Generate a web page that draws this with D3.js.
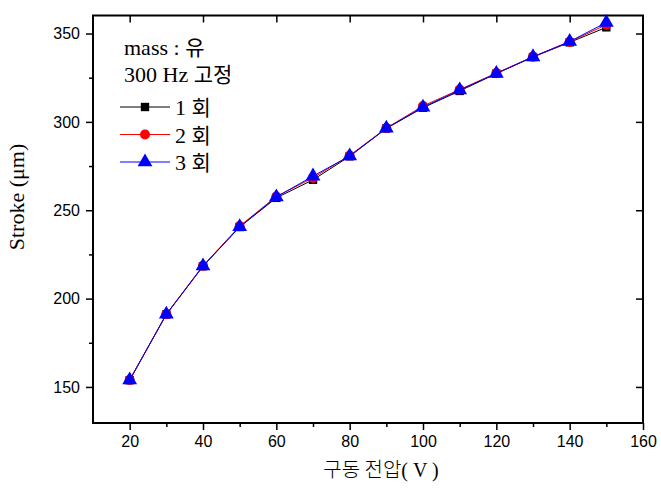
<!DOCTYPE html>
<html>
<head>
    <meta charset="utf-8">
    <title>Stroke vs voltage</title>
    <style>
        body, html {
            margin: 0;
            background: #fff;
        }
        .tick text {
            font-family: "Liberation Sans", Arial, sans-serif;
            font-size: 16px;
            fill: #000;
        }
        .serif {
            font-family: "Liberation Serif", "Times New Roman", serif;
        }
        .kr {
            font-family: "Noto Sans CJK KR", sans-serif;
        }
    </style>
</head>
<body>
<div id="chart"></div>
<script src="https://d3js.org/d3.v7.min.js"></script>
<script>

    // driving voltage (V)
    var voltage = [20, 30, 40, 50, 60, 70, 80, 90, 100, 110, 120, 130, 140, 150];
    // stroke (um), three repeated runs
    var run1 = [153.8, 191.0, 218.3, 240.5, 257.0, 267.2, 280.5, 296.3, 308.0, 317.5, 327.3, 336.7, 345.0, 353.5];
    var run2 = [154.0, 191.2, 218.6, 241.0, 257.8, 268.3, 281.0, 296.5, 309.0, 318.3, 327.6, 336.9, 345.3, 355.0];
    var run3 = [153.9, 191.1, 218.4, 240.6, 257.5, 269.3, 280.7, 296.4, 308.3, 318.0, 327.4, 336.8, 345.5, 356.2];
    var runNames = ['1', '2', '3'];
    var xTicks = [20, 40, 60, 80, 100, 120, 140, 160];
    var yTicks = [150, 200, 250, 300, 350];

    var width = 661;
    var height = 495;
    var plotL = 93, plotR = 643, plotT = 15.5, plotB = 423;

    var x = d3.scaleLinear().domain([10, 160]).range([plotL, plotR]);
    var y = d3.scaleLinear().domain([129.6, 360.2]).range([plotB, plotT]);

    var svg = d3.select('#chart')
        .append('svg')
        .attr('width', width)
        .attr('height', height)
        .style('display', 'block');

    function noDomain(g) {
        g.select('.domain').remove();
        g.selectAll('line').attr('stroke-width', 1.5);
    }

    // minor ticks (bottom and left only)
    var xMinor = d3.range(30, 160, 20);
    var yMinor = d3.range(175, 360, 50);

    svg.append('g')
        .attr('transform', 'translate(0,' + plotB + ')')
        .call(d3.axisBottom(x).tickValues(xMinor).tickSize(4).tickFormat(''))
        .call(noDomain);

    svg.append('g')
        .attr('transform', 'translate(' + plotL + ',0)')
        .call(d3.axisLeft(y).tickValues(yMinor).tickSize(4).tickFormat(''))
        .call(noDomain);

    svg.append('g')
        .attr('transform', 'translate(0,' + plotB + ')')
        .call(d3.axisBottom(x).tickValues(xTicks).tickSize(7).tickPadding(6))
        .call(noDomain);

    svg.append('g')
        .attr('transform', 'translate(' + plotL + ',0)')
        .call(d3.axisLeft(y).tickValues(yTicks).tickSize(7).tickPadding(6))
        .call(noDomain);

    // top and right: inward major ticks
    svg.append('g')
        .attr('transform', 'translate(0,' + plotT + ')')
        .call(d3.axisBottom(x).tickValues(xTicks.slice(0, -1)).tickSize(7).tickFormat(''))
        .call(noDomain);

    svg.append('g')
        .attr('transform', 'translate(' + plotR + ',0)')
        .call(d3.axisLeft(y).tickValues(yTicks).tickSize(7).tickFormat(''))
        .call(noDomain);

    // frame
    svg.append('rect')
        .attr('x', plotL)
        .attr('y', plotT)
        .attr('width', plotR - plotL)
        .attr('height', plotB - plotT)
        .attr('fill', 'none')
        .attr('stroke', '#000')
        .attr('stroke-width', 2);

    var series = [
        {name: runNames[0], values: run1, color: '#000000', shape: d3.symbolSquare, size: 70},
        {name: runNames[1], values: run2, color: '#ff0000', shape: d3.symbolCircle, size: 80},
        {name: runNames[2], values: run3, color: '#0000ff', shape: d3.symbolTriangle, size: 95}
    ];

    var line = d3.line()
        .x(function(d, i) { return x(voltage[i]); })
        .y(function(d) { return y(d); });

    series.forEach(function(s) {
        svg.append('path')
            .datum(s.values)
            .attr('d', line)
            .attr('fill', 'none')
            .attr('stroke', s.color)
            .attr('stroke-width', 1);

        svg.selectAll('.pt' + s.name)
            .data(s.values)
            .enter()
            .append('path')
            .attr('class', 'pt' + s.name)
            .attr('d', d3.symbol().type(s.shape).size(s.size))
            .attr('transform', function(d, i) {
                return 'translate(' + x(voltage[i]) + ',' + y(d) + ')';
            })
            .attr('fill', s.color);
    });

    // legend
    var legend = svg.append('g');

    var t1 = legend.append('text').attr('x', 124).attr('y', 55).attr('font-size', 22);
    t1.append('tspan').attr('class', 'serif').text('mass : ');
    t1.append('tspan').attr('class', 'kr').attr('font-size', 21).text('유');

    var t2 = legend.append('text').attr('x', 124).attr('y', 82).attr('font-size', 22);
    t2.append('tspan').attr('class', 'serif').text('300 Hz ');
    t2.append('tspan').attr('class', 'kr').attr('font-size', 21).text('고정');

    var legendRow = legend.selectAll('.legend')
        .data(series)
        .enter()
        .append('g')
        .attr('class', 'legend')
        .attr('transform', function(d, i) {
            return 'translate(0,' + (107 + i * 27.5) + ')';
        });

    legendRow.append('line')
        .attr('x1', 120)
        .attr('x2', 170)
        .attr('stroke', function(d) { return d.color; })
        .attr('stroke-width', 1);

    legendRow.append('path')
        .attr('d', function(d) { return d3.symbol().type(d.shape).size(d.size)(); })
        .attr('transform', 'translate(145,0)')
        .attr('fill', function(d) { return d.color; });

    var lt = legendRow.append('text')
        .attr('x', 175)
        .attr('y', 8)
        .attr('font-size', 22);
    lt.append('tspan').attr('class', 'serif').text(function(d) { return d.name + ' '; });
    lt.append('tspan').attr('class', 'kr').attr('font-size', 21).text('회');

    // axis titles
    svg.append('text')
        .attr('class', 'serif')
        .attr('transform', 'translate(24,197) rotate(-90)')
        .attr('text-anchor', 'middle')
        .attr('font-size', 22)
        .text('Stroke (\u03bcm)');

    var xt = svg.append('text')
        .attr('x', 381)
        .attr('y', 477)
        .attr('text-anchor', 'middle')
        .attr('font-size', 20);
    xt.append('tspan').attr('class', 'kr').attr('font-weight', 300).text('구동 전압');
    xt.append('tspan').attr('class', 'serif').text('( V )');

</script>
</body>
</html>
